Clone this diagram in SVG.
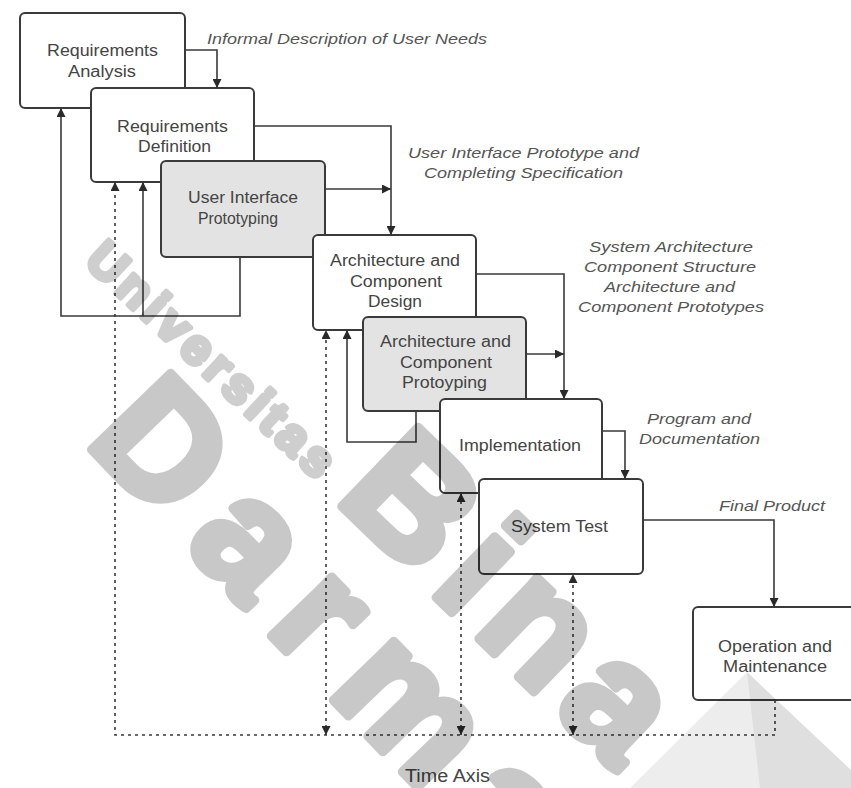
<svg xmlns="http://www.w3.org/2000/svg" width="851" height="788" viewBox="0 0 851 788">
<style>
.box{fill:#ffffff;stroke:#3a3a3a;stroke-width:2}
.gbox{fill:#e3e3e3;stroke:#3a3a3a;stroke-width:2}
.lbl{font-family:"Liberation Sans",Arial,sans-serif;font-size:16px;fill:#444}
.it{font-family:"Liberation Sans",Arial,sans-serif;font-size:15px;font-style:italic;fill:#555}
.ln{fill:none;stroke:#3a3a3a;stroke-width:1.6}
.dt{fill:none;stroke:#3a3a3a;stroke-width:1.6;stroke-dasharray:3 4}
.wm{font-family:"Liberation Sans",Arial,sans-serif;font-weight:bold;fill:#000;stroke:#000;stroke-linejoin:round}
</style>
<defs>
<marker id="ah" viewBox="0 0 10 10" refX="10" refY="5" markerWidth="9" markerHeight="9" markerUnits="userSpaceOnUse" orient="auto-start-reverse">
<path d="M0,0 L10,5 L0,10 z" fill="#2a2a2a"/>
</marker>
</defs>
<rect width="851" height="788" fill="#ffffff"/>
<g id="nodes">
<g id="req-analysis"><rect class="box" x="20" y="13" width="165" height="95" rx="5"/>
<text class="lbl" x="47" y="56" textLength="111" lengthAdjust="spacingAndGlyphs">Requirements</text>
<text class="lbl" x="68" y="77" textLength="68" lengthAdjust="spacingAndGlyphs">Analysis</text></g>
<g id="req-definition"><rect class="box" x="91" y="88" width="163" height="94" rx="5"/>
<text class="lbl" x="117" y="132" textLength="111" lengthAdjust="spacingAndGlyphs">Requirements</text>
<text class="lbl" x="138" y="152" textLength="73" lengthAdjust="spacingAndGlyphs">Definition</text></g>
<g id="ui-prototyping"><rect class="gbox" x="161" y="161" width="164" height="96" rx="5"/>
<text class="lbl" x="188" y="203" textLength="110" lengthAdjust="spacingAndGlyphs">User Interface</text>
<text class="lbl" x="198" y="224" textLength="80" lengthAdjust="spacingAndGlyphs">Prototyping</text></g>
<g id="arch-design"><rect class="box" x="313" y="235" width="163" height="95" rx="5"/>
<text class="lbl" x="330" y="266" textLength="130" lengthAdjust="spacingAndGlyphs">Architecture and</text>
<text class="lbl" x="350" y="287" textLength="92" lengthAdjust="spacingAndGlyphs">Component</text>
<text class="lbl" x="368" y="307" textLength="54" lengthAdjust="spacingAndGlyphs">Design</text></g>
<g id="arch-prototyping"><rect class="gbox" x="363" y="317" width="163" height="94" rx="5"/>
<text class="lbl" x="380" y="347" textLength="131" lengthAdjust="spacingAndGlyphs">Architecture and</text>
<text class="lbl" x="400" y="368" textLength="92" lengthAdjust="spacingAndGlyphs">Component</text>
<text class="lbl" x="402" y="388" textLength="85" lengthAdjust="spacingAndGlyphs">Protoyping</text></g>
<g id="implementation"><rect class="box" x="440" y="399" width="162" height="94" rx="5"/>
<text class="lbl" x="459" y="451" textLength="122" lengthAdjust="spacingAndGlyphs">Implementation</text></g>
<g id="system-test"><rect class="box" x="479" y="479" width="164" height="95" rx="5"/>
<text class="lbl" x="511" y="532" textLength="97" lengthAdjust="spacingAndGlyphs">System Test</text></g>
<g id="operation"><rect class="box" x="693" y="607" width="170" height="93" rx="5"/>
<text class="lbl" x="718" y="652" textLength="114" lengthAdjust="spacingAndGlyphs">Operation and</text>
<text class="lbl" x="723" y="672" textLength="104" lengthAdjust="spacingAndGlyphs">Maintenance</text></g>
</g>
<g id="connectors">
<path class="ln" d="M185,50 H217 V88" marker-end="url(#ah)"/>
<path class="ln" d="M254,126 H391 V235" marker-end="url(#ah)"/>
<path class="ln" d="M325,189 H391" marker-end="url(#ah)"/>
<path class="ln" d="M240,257 V316 H61 V108" marker-end="url(#ah)"/>
<path class="ln" d="M143,316 V182" marker-end="url(#ah)"/>
<path class="ln" d="M476,274 H564 V399" marker-end="url(#ah)"/>
<path class="ln" d="M526,354 H564" marker-end="url(#ah)"/>
<path class="ln" d="M416,411 V442 H347 V330" marker-end="url(#ah)"/>
<path class="ln" d="M602,431 H625 V479" marker-end="url(#ah)"/>
<path class="ln" d="M643,520 H774 V607" marker-end="url(#ah)"/>
<path class="dt" d="M775,700 V735 H115 V182" marker-end="url(#ah)"/>
<path class="dt" d="M326,735 V330" marker-start="url(#ah)" marker-end="url(#ah)"/>
<path class="dt" d="M461,735 V493" marker-start="url(#ah)" marker-end="url(#ah)"/>
<path class="dt" d="M573,735 V574" marker-start="url(#ah)" marker-end="url(#ah)"/>
</g>
<g id="labels">
<text class="it" x="207" y="44" textLength="280" lengthAdjust="spacingAndGlyphs">Informal Description of User Needs</text>
<text class="it" x="408" y="158" textLength="231" lengthAdjust="spacingAndGlyphs">User Interface Prototype and</text>
<text class="it" x="424" y="178" textLength="199" lengthAdjust="spacingAndGlyphs">Completing Specification</text>
<text class="it" x="589" y="252" textLength="164" lengthAdjust="spacingAndGlyphs">System Architecture</text>
<text class="it" x="584" y="272" textLength="172" lengthAdjust="spacingAndGlyphs">Component Structure</text>
<text class="it" x="604" y="292" textLength="131" lengthAdjust="spacingAndGlyphs">Architecture and</text>
<text class="it" x="578" y="312" textLength="186" lengthAdjust="spacingAndGlyphs">Component Prototypes</text>
<text class="it" x="647" y="424" textLength="104" lengthAdjust="spacingAndGlyphs">Program and</text>
<text class="it" x="639" y="444" textLength="121" lengthAdjust="spacingAndGlyphs">Documentation</text>
<text class="it" x="719" y="511" textLength="106" lengthAdjust="spacingAndGlyphs">Final Product</text>
<text class="lbl" x="405" y="782" style="font-size:18px" textLength="85" lengthAdjust="spacingAndGlyphs">Time Axis</text>
</g>
<g id="watermark">
<g opacity="0.19"><text class="wm" transform="translate(83,263) rotate(43)" style="font-size:50px;letter-spacing:5px;stroke-width:5">Universitas</text></g>
<g opacity="0.21"><text class="wm" transform="translate(334,499) rotate(44)" style="font-size:160px;letter-spacing:15px;stroke-width:9">Bina</text></g>
<g opacity="0.21"><text class="wm" transform="translate(84,442) rotate(46)" style="font-size:160px;letter-spacing:27px;stroke-width:9">Darma</text></g>
<polygon points="747,672 630,788 851,788 851,770" fill="#000" opacity="0.07"/>
<polygon points="747,672 851,770 851,788 760,788" fill="#000" opacity="0.06"/>
</g>
</svg>
